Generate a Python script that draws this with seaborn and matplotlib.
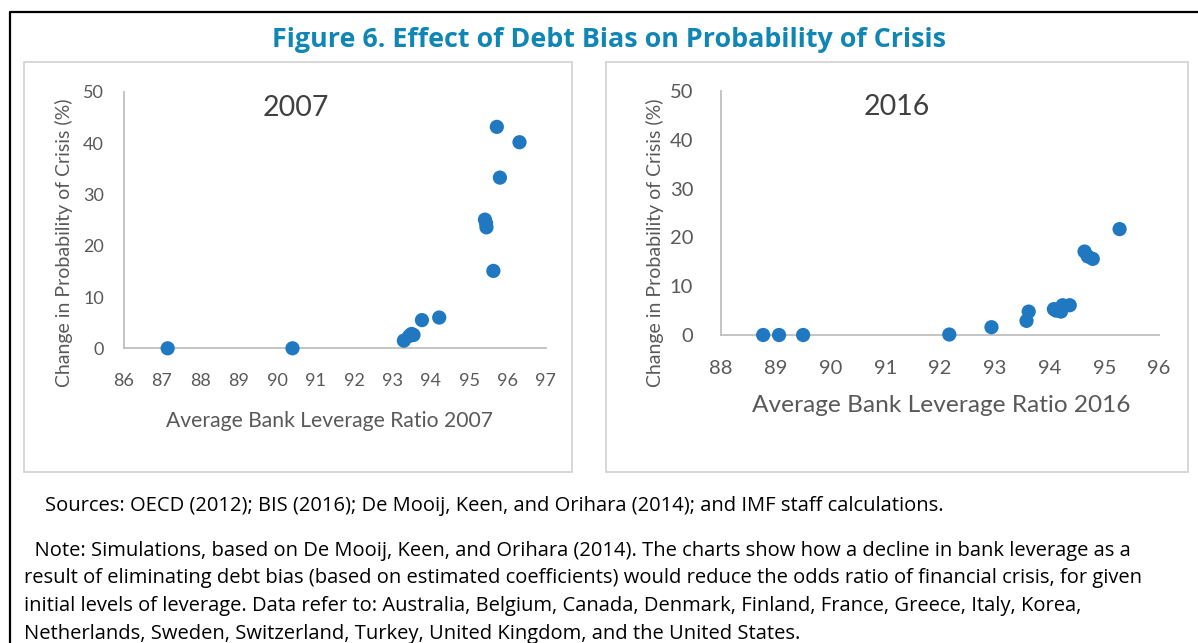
import matplotlib
matplotlib.use("Agg")
import matplotlib.pyplot as plt
import seaborn as sns
import pandas as pd
from matplotlib.patches import Rectangle
from matplotlib.lines import Line2D

# ---- data ----
lev_2007 = [87.15, 90.40, 93.30, 93.44, 93.50, 93.55, 93.77, 94.22, 95.41, 95.44, 95.45, 95.63, 95.72, 95.80, 96.31]
crisis_2007 = [0.0, 0.0, 1.5, 2.4, 2.8, 2.6, 5.5, 6.0, 25.1, 24.4, 23.6, 15.1, 43.2, 33.3, 40.2]

lev_2016 = [88.77, 89.06, 89.50, 92.17, 92.94, 93.58, 93.62, 94.08, 94.12, 94.21, 94.24, 94.37, 94.64, 94.70, 94.79, 95.28]
crisis_2016 = [0.0, 0.0, 0.0, 0.1, 1.6, 2.9, 4.8, 5.3, 5.0, 4.8, 6.1, 6.1, 17.1, 16.1, 15.6, 21.7]

xticks_2007 = list(range(86, 98))
xticks_2016 = list(range(88, 97))
yticks = [0, 10, 20, 30, 40, 50]

fig_title = "Figure 6. Effect of Debt Bias on Probability of Crisis"
ylabel = "Change in Probability of Crisis (%)"
sources = "Sources: OECD (2012); BIS (2016); De Mooij, Keen, and Orihara (2014); and IMF staff calculations."
note_lines = [
    "  Note: Simulations, based on De Mooij, Keen, and Orihara (2014). The charts show how a decline in bank leverage as a",
    "result of eliminating debt bias (based on estimated coefficients) would reduce the odds ratio of financial crisis, for given",
    "initial levels of leverage. Data refer to: Australia, Belgium, Canada, Denmark, Finland, France, Greece, Italy, Korea,",
    "Netherlands, Sweden, Switzerland, Turkey, United Kingdom, and the United States.",
]

df07 = pd.DataFrame({"lev": lev_2007, "crisis": crisis_2007})
df16 = pd.DataFrame({"lev": lev_2016, "crisis": crisis_2016})

sns.set_theme(style="white")
plt.rcParams["font.family"] = ["Lato", "DejaVu Sans"]

W, H = 1198, 643
fig = plt.figure(figsize=(W / 100, H / 100), dpi=100)
fig.patch.set_facecolor("white")

def px_rect(x0, x1, ytop, ybot):
    return [x0 / W, (H - ybot) / H, (x1 - x0) / W, (ybot - ytop) / H]

def fx(x):
    return x / W

def fy(y):
    return (H - y) / H

# Outer border (left + top)
fig.add_artist(Line2D([fx(10), fx(10), fx(1200)], [fy(645), fy(12), fy(12)],
                      color="black", lw=1.6, transform=fig.transFigure))
# Panel boxes
for (x0, x1) in [(24, 572), (606, 1188)]:
    fig.add_artist(Rectangle((fx(x0), fy(472)), (x1 - x0) / W, (472 - 62) / H,
                             fill=False, edgecolor="#d4d4d4", lw=1.3,
                             transform=fig.transFigure))

fig.text(fx(609), fy(40), fig_title, ha="center", va="center",
         fontsize=19.4, fontweight="bold", color="#0f86b4",
         family=["Open Sans", "DejaVu Sans"])

dot = "#1f78c0"
tick_col = "#595959"

def style_ax(ax, xlim, xticks, fs, xpad, ypad):
    ax.set_xlim(*xlim)
    ax.set_ylim(0, 50)
    ax.set_xticks(xticks)
    ax.set_yticks(yticks)
    for s in ["top", "right"]:
        ax.spines[s].set_visible(False)
    for s in ["left", "bottom"]:
        ax.spines[s].set_color("#bfbfbf")
        ax.spines[s].set_linewidth(1.3)
    ax.tick_params(axis="x", length=0, pad=xpad, labelsize=fs, labelcolor=tick_col)
    ax.tick_params(axis="y", length=0, pad=ypad, labelsize=fs, labelcolor=tick_col)
    ax.set_xlabel("")
    ax.set_ylabel("")
    ax.patch.set_alpha(0)

# Left panel (2007)
ax1 = fig.add_axes(px_rect(123.5, 546, 92, 348.3))
sns.scatterplot(data=df07, x="lev", y="crisis", ax=ax1, color=dot, s=105,
                edgecolor="none", clip_on=False, zorder=3)
style_ax(ax1, (86, 97), xticks_2007, 13, 18, 14)
fig.text(fx(296), fy(108), "2007", ha="center", va="center", fontsize=20.5, color="#404040")
fig.text(fx(64), fy(243), ylabel, ha="center", va="center", rotation=90, fontsize=14, color=tick_col)
fig.text(fx(330), fy(421), "Average Bank Leverage Ratio 2007", ha="center", va="center",
         fontsize=15.2, color=tick_col)

# Right panel (2016)
ax2 = fig.add_axes(px_rect(721, 1159, 91, 335))
sns.scatterplot(data=df16, x="lev", y="crisis", ax=ax2, color=dot, s=105,
                edgecolor="none", clip_on=False, zorder=3)
style_ax(ax2, (88, 96), xticks_2016, 14.5, 18, 20)
fig.text(fx(897), fy(107), "2016", ha="center", va="center", fontsize=20.5, color="#404040")
fig.text(fx(655), fy(243), ylabel, ha="center", va="center", rotation=90, fontsize=14, color=tick_col)
fig.text(fx(941), fy(406), "Average Bank Leverage Ratio 2016", ha="center", va="center",
         fontsize=17.6, color=tick_col)

# Notes
note_font = ["Open Sans", "DejaVu Sans"]
fig.text(fx(45), fy(506), sources, ha="left", va="center", fontsize=14.5, color="black", family=note_font)
for i, line in enumerate(note_lines):
    fig.text(fx(24), fy(551 + 27.5 * i), line, ha="left", va="center", fontsize=14.5,
             color="black", family=note_font)

fig.savefig("out.png", dpi=100, facecolor="white")
